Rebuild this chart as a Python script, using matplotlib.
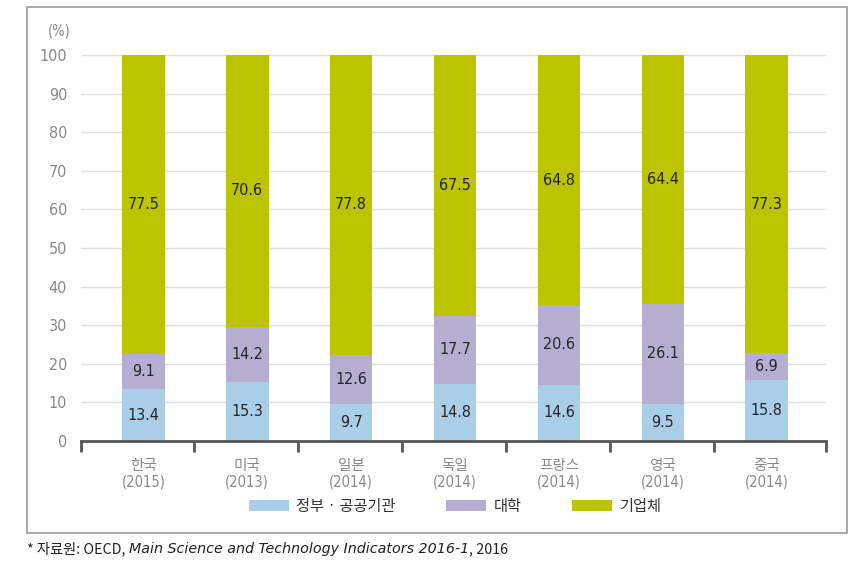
import matplotlib
matplotlib.use("Agg")
import matplotlib.pyplot as plt
from matplotlib.patches import Rectangle
import numpy as np

plt.rcParams['font.family'] = ['Noto Sans CJK KR', 'DejaVu Sans']

countries = ['한국', '미국', '일본', '독일', '프랑스', '영국', '중국']
years = ['(2015)', '(2013)', '(2014)', '(2014)', '(2014)', '(2014)', '(2014)']
series_names = ['정부 · 공공기관', '대학', '기업체']
gov = [13.4, 15.3, 9.7, 14.8, 14.6, 9.5, 15.8]
univ = [9.1, 14.2, 12.6, 17.7, 20.6, 26.1, 6.9]
biz = [77.5, 70.6, 77.8, 67.5, 64.8, 64.4, 77.3]
yticks = [0, 10, 20, 30, 40, 50, 60, 70, 80, 90, 100]

colors = ['#aacde8', '#b5aed1', '#bcc300']
W, H = 857, 571
fig = plt.figure(figsize=(W / 100, H / 100), dpi=100)
NUMFAM = ['DejaVu Sans']

# outer frame
fig.patches.append(Rectangle((27 / W, 1 - 533 / H), (847 - 27) / W, (533 - 7) / H,
                             transform=fig.transFigure, fill=False,
                             edgecolor='#9a9a9a', linewidth=1.2))

ax = fig.add_axes([81 / W, 1 - 441 / H, (826 - 81) / W, (441 - 55) / H])
x = np.arange(len(countries))
xl, xr = -0.6, 6.57
ax.set_xlim(xl, xr)
ax.set_ylim(0, 100)

for s in ['top', 'right', 'left']:
    ax.spines[s].set_visible(False)
ax.spines['bottom'].set_color('#555555')
ax.spines['bottom'].set_linewidth(2)

for yv in yticks[1:]:
    ax.axhline(yv, color='#dedede', linewidth=1, zorder=0)

bw = 0.41
bottoms = np.zeros(len(x))
data = [gov, univ, biz]
handles = []
for vals, col, name in zip(data, colors, series_names):
    b = ax.bar(x, vals, bw, bottom=bottoms, color=col, label=name, zorder=2)
    handles.append(b)
    for xi, v, bt in zip(x, vals, bottoms):
        ax.text(xi, bt + v / 2, f'{v}', ha='center', va='center', fontsize=11.5,
                color='#262626', family=NUMFAM, stretch='condensed', zorder=3)
    bottoms = bottoms + np.array(vals)

ax.set_yticks(yticks)
ax.set_yticklabels([str(v) for v in yticks], color='#888888', fontsize=11.5,
                   family=NUMFAM, stretch='condensed')
ax.tick_params(axis='y', length=0, pad=10)

bounds = [xl] + [i + 0.49 for i in range(6)] + [xr]
ax.set_xticks(bounds)
ax.set_xticklabels([''] * len(bounds))
ax.tick_params(axis='x', direction='out', length=8, width=2, color='#555555')

for xi, c, yr in zip(x, countries, years):
    ax.text(xi, -6.4, c, ha='center', va='center', fontsize=10.5, color='#8a8a8a',
            clip_on=False)
    ax.text(xi, -10.7, yr, ha='center', va='center', fontsize=10.5, color='#8a8a8a',
            family=NUMFAM, stretch='condensed', clip_on=False)

fig.text(48 / W, 1 - 31 / H, '(%)', ha='left', va='center', fontsize=10.5, color='#888888',
         family=NUMFAM, stretch='condensed')

fig.legend(handles=handles, labels=series_names, loc='center',
           bbox_to_anchor=(455 / W, 1 - 506 / H), ncol=3, frameon=False,
           fontsize=11, handlelength=2.6, handleheight=0.75, handletextpad=0.5,
           columnspacing=3.3, labelcolor='#333333')

# caption
fig.canvas.draw()
r = fig.canvas.get_renderer()
cx = 27 / W
cy = 1 - 549 / H
parts = [('* 자료원: OECD, ', 'normal'),
         ('Main Science and Technology Indicators 2016-1', 'italic'),
         (', 2016', 'normal')]
for txt, st in parts:
    fam = ['Noto Sans CJK KR', 'DejaVu Sans'] if st == 'normal' else ['DejaVu Sans']
    t = fig.text(cx, cy, txt, ha='left', va='center', fontsize=10.3, style=st,
                 color='#222222', family=fam)
    bb = t.get_window_extent(renderer=r)
    cx += bb.width / W

fig.savefig('out.png', dpi=100)
